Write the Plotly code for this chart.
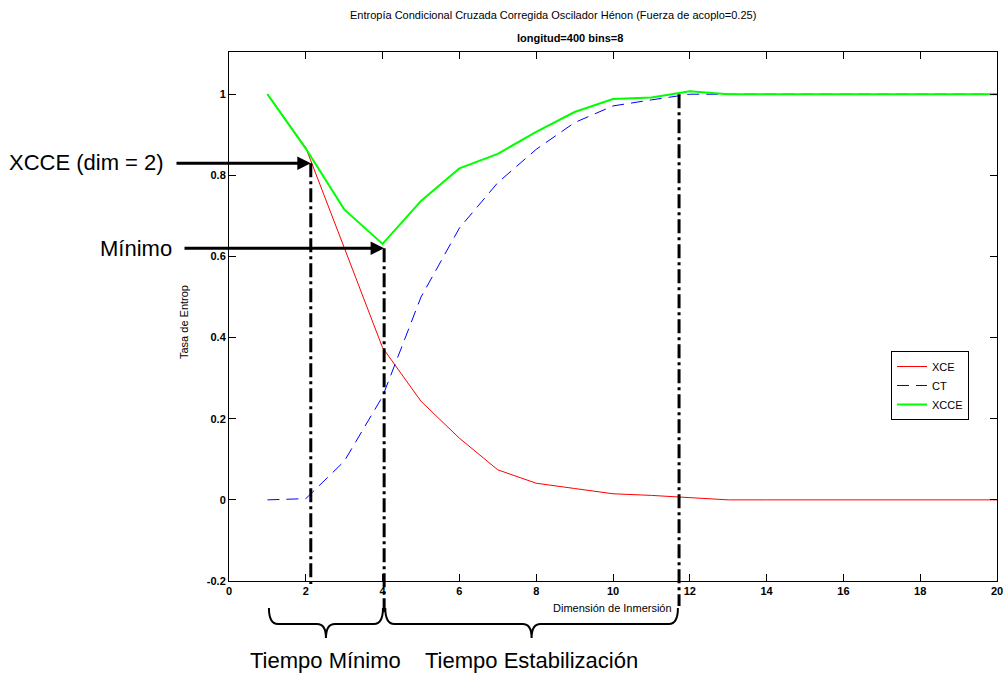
import plotly.graph_objects as go

# ---------------- data ----------------
dims = list(range(1, 21))
xce = [1.0, 0.868, 0.622, 0.375, 0.243, 0.152, 0.074, 0.041, 0.028, 0.015,
       0.011, 0.006, 0.0, 0.0, 0.0, 0.0, 0.0, 0.0, 0.0, 0.0]
ct = [0.0, 0.003, 0.095, 0.255, 0.500, 0.670, 0.782, 0.864, 0.930, 0.971,
      0.986, 1.0, 1.0, 1.0, 1.0, 1.0, 1.0, 1.0, 1.0, 1.0]
xcce = [1.0, 0.866, 0.716, 0.631, 0.737, 0.817, 0.853, 0.907, 0.956, 0.988,
        0.992, 1.007, 1.0, 1.0, 1.0, 1.0, 1.0, 1.0, 1.0, 1.0]

x_ticks = [0, 2, 4, 6, 8, 10, 12, 14, 16, 18, 20]
y_ticks = [-0.2, 0, 0.2, 0.4, 0.6, 0.8, 1]
y_tick_labels = ["-0.2", "0", "0.2", "0.4", "0.6", "0.8", "1"]

# marker positions (dimension, value) for the dash-dot guide lines
marker_x = [2.13, 4.04, 11.72]
marker_y = [0.83, 0.62, 1.0]
marker_bottom_px = [584, 612, 606]  # how far below the axis each guide extends (pixels)

brace_spans = [(1.04, 4.01), (4.07, 11.69)]
brace_labels = ["Tiempo Mínimo", "Tiempo Estabilización"]

X_RANGE = [0, 20]
Y_RANGE = [-0.2, 1.104]

# ---------------- layout geometry ----------------
W, H = 1006, 675
ML, MR, MT, MB = 229, 9, 52, 94
PW = W - ML - MR
PH = H - MT - MB

def px_to_paper_x(px):
    return (px - ML) / PW

def px_to_paper_y(py):
    return (H - MB - py) / PH

def data_to_paper_x(x):
    return (x - X_RANGE[0]) / (X_RANGE[1] - X_RANGE[0])

def data_to_paper_y(y):
    return (y - Y_RANGE[0]) / (Y_RANGE[1] - Y_RANGE[0])

FONT = "Liberation Sans, Arial, Helvetica, sans-serif"

fig = go.Figure()
fig.add_trace(go.Scatter(x=dims, y=xce, mode="lines", name="XCE",
                         line=dict(color="#ff0000", width=1)))
fig.add_trace(go.Scatter(x=dims, y=ct, mode="lines", name="CT",
                         line=dict(color="#0000ff", width=1, dash="12px,7px")))
fig.add_trace(go.Scatter(x=dims, y=xcce, mode="lines", name="XCCE",
                         line=dict(color="#00ff00", width=2)))

shapes = []
# dash-dot guide lines
for mx, my, bpx in zip(marker_x, marker_y, marker_bottom_px):
    xp = data_to_paper_x(mx)
    shapes.append(dict(type="line", xref="paper", yref="paper",
                       x0=xp, x1=xp, y0=data_to_paper_y(my), y1=px_to_paper_y(bpx),
                       line=dict(color="black", width=3, dash="14px,4px,3px,4px")))

# braces
yt = px_to_paper_y(608)
ym = px_to_paper_y(624)
yp = px_to_paper_y(638)
d = 9 / PW
annotations = []
for (a, b), lab in zip(brace_spans, brace_labels):
    x0 = data_to_paper_x(a)
    x1 = data_to_paper_x(b)
    xm = (x0 + x1) / 2
    path = (f"M {x0},{yt} Q {x0},{ym} {x0 + d},{ym} L {xm - d},{ym} "
            f"Q {xm},{ym} {xm},{yp} Q {xm},{ym} {xm + d},{ym} "
            f"L {x1 - d},{ym} Q {x1},{ym} {x1},{yt}")
    shapes.append(dict(type="path", xref="paper", yref="paper", path=path,
                       line=dict(color="black", width=2)))
    annotations.append(dict(text=lab, xref="paper", yref="paper", x=xm,
                            y=px_to_paper_y(660), xanchor="center", yanchor="middle",
                            showarrow=False, font=dict(family=FONT, size=22, color="black")))

# arrows
arrow_tails_px = [175, 183]
for mx, my, tail in zip(marker_x[:2], marker_y[:2], arrow_tails_px):
    head_px = ML + data_to_paper_x(mx) * PW
    annotations.append(dict(text="", x=mx, y=my, xref="x", yref="y",
                            ax=tail - head_px, ay=0, showarrow=True,
                            arrowhead=2, arrowsize=0.9, arrowwidth=3, arrowcolor="black"))

annotations.append(dict(text="XCCE (dim = 2)", xref="paper", yref="paper",
                        x=px_to_paper_x(7), y=px_to_paper_y(162), xanchor="left",
                        yanchor="middle", showarrow=False,
                        font=dict(family=FONT, size=22, color="black")))
annotations.append(dict(text="Mínimo", xref="paper", yref="paper",
                        x=px_to_paper_x(174), y=px_to_paper_y(248), xanchor="right",
                        yanchor="middle", showarrow=False,
                        font=dict(family=FONT, size=22, color="black")))

# titles
annotations.append(dict(text="Entropía Condicional Cruzada Corregida Oscilador Hénon (Fuerza de acoplo=0.25)",
                        xref="paper", yref="paper", x=px_to_paper_x(553), y=px_to_paper_y(15),
                        xanchor="center", yanchor="middle", showarrow=False,
                        font=dict(family=FONT, size=11, color="black")))
annotations.append(dict(text="<b>longitud=400 bins=8</b>",
                        xref="paper", yref="paper", x=px_to_paper_x(570), y=px_to_paper_y(38),
                        xanchor="center", yanchor="middle", showarrow=False,
                        font=dict(family=FONT, size=11, color="black")))
annotations.append(dict(text="Dimensión de Inmersión", xref="paper", yref="paper",
                        x=px_to_paper_x(612), y=px_to_paper_y(608),
                        xanchor="center", yanchor="middle", showarrow=False,
                        font=dict(family=FONT, size=11, color="black")))
annotations.append(dict(text="Tasa de Entrop", xref="paper", yref="paper",
                        x=px_to_paper_x(184), y=px_to_paper_y(322), textangle=-90,
                        xanchor="center", yanchor="middle", showarrow=False,
                        font=dict(family=FONT, size=11, color="black")))

fig.update_layout(
    width=W, height=H,
    margin=dict(l=ML, r=MR, t=MT, b=MB, pad=0),
    paper_bgcolor="white", plot_bgcolor="white",
    font=dict(family=FONT, size=11, color="black"),
    shapes=shapes,
    annotations=annotations,
    legend=dict(x=px_to_paper_x(891), y=px_to_paper_y(351), xanchor="left", yanchor="top",
                bgcolor="white", bordercolor="black", borderwidth=1,
                font=dict(family=FONT, size=11, color="black"),
                tracegroupgap=0, entrywidth=53),
    showlegend=True,
)
fig.update_xaxes(range=X_RANGE, tickvals=x_ticks, ticktext=[str(v) for v in x_ticks],
                 automargin=False,
                 showgrid=False, zeroline=False, showline=True, linecolor="black",
                 linewidth=1, mirror="ticks", ticks="inside", ticklen=7,
                 tickcolor="black", tickfont=dict(family=FONT, size=11, weight="bold"))
fig.update_yaxes(range=Y_RANGE, tickvals=y_ticks, ticktext=y_tick_labels,
                 automargin=False,
                 showgrid=False, zeroline=False, showline=True, linecolor="black",
                 linewidth=1, mirror="ticks", ticks="inside", ticklen=7,
                 tickcolor="black", tickfont=dict(family=FONT, size=11, weight="bold"))

fig.write_html("out.html")
